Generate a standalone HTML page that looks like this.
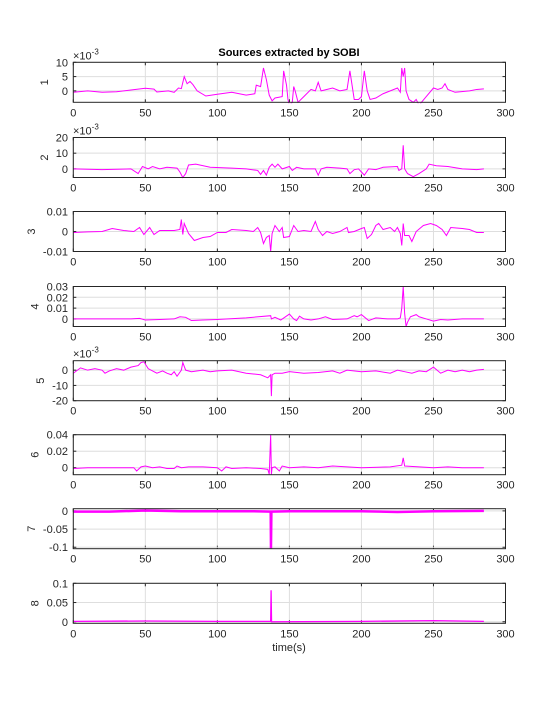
<!DOCTYPE html>
<html><head><meta charset="utf-8"><style>
body{margin:0;background:#fff;}
svg{display:block;font-family:"Liberation Sans",sans-serif;}
</style></head><body>
<svg id="c" width="560" height="704"></svg>
<script>
const xTicks=[0,50,100,150,200,250,300];
const s1=[[0,-0.5],[10,0],[20,-0.5],[30,-0.3],[40,0.3],[50,0.9],[56,0.6],[58,-0.4],[66,0],[70,-0.5],[73,1],[75,0.8],[77,5],[79,2.5],[81,3.3],[83,2.2],[86,0],[92,-1.8],[100,-1.2],[110,-0.5],[120,-1.5],[126,-1],[127,2],[130,1.5],[132,8],[134,4],[136,-1.5],[138,-3.5],[140,-2.5],[145,-2],[146,7],[148,2],[149,-3],[150,-5],[152,-4],[153,1.5],[154,0],[156,-4],[160,-2],[165,0.5],[168,0],[170,3],[172,0],[180,1],[185,0],[190,0.5],[192,7],[195,-3],[198,-3],[200,-2],[202,7],[204,0],[206,-3],[210,-2.5],[215,-1],[220,0],[225,1],[227,-0.5],[228,8],[229,5],[230,8],[231,0],[233,-3],[236,-4],[238,-3],[240,-5],[245,-2],[250,1],[253,0.5],[256,1],[258,2.5],[260,0.5],[265,-0.5],[275,0],[280,0.5],[285,0.7]];
const s2=[[0,0],[20,-0.5],[40,0],[45,-3],[48,1.5],[52,0],[55,1.5],[60,0],[65,1],[72,0.5],[74,-2],[76,-5.5],[78,-3],[80,2.5],[85,3],[95,1],[110,0.5],[120,0],[128,-1],[130,-3.5],[132,-1],[134,-4],[136,1],[138,3],[140,1],[142,3],[145,0],[150,1.5],[152,-1],[155,1],[160,0],[168,0],[170,-4],[172,0],[176,1],[185,0.5],[190,0],[192,-3],[195,-0.5],[198,0],[200,-2],[202,-4],[205,0],[210,-0.5],[215,1],[225,1.5],[226,-1],[228,0],[229,15],[230,0],[232,-3],[236,-5],[240,-3],[245,0],[247,3],[252,2],[260,1.5],[270,0],[280,-0.5],[285,0]];
const s3=[[0,-0.5],[10,-0.2],[20,0],[27,1.5],[35,0.5],[42,0],[46,2],[49,-1.5],[53,2],[56,-1.5],[60,0.5],[70,0.5],[74,1],[75,6],[76,-1.5],[77,4],[80,-1],[84,-4.5],[90,-3],[95,-2.5],[100,-0.5],[106,-0.5],[110,1],[120,0.5],[125,0],[128,2],[130,-0.5],[132,-6],[134,-3],[136,-2],[137,-10],[138,-1],[140,3],[143,0],[145,2],[146,-3],[150,-2.5],[153,3],[156,0],[160,0.5],[165,0],[168,5],[170,1],[173,-2],[176,0],[180,-1],[185,0],[190,2],[191,-0.5],[195,0],[200,1.5],[202,2],[204,-3.5],[207,-1.5],[210,3],[212,4],[215,1],[220,2],[223,0],[225,2],[227,-1],[228,-7],[229,4],[230,-2],[233,-2],[235,-5],[238,0],[243,3],[248,4],[252,3],[256,1],[259,-2],[262,2],[270,1.5],[275,1],[280,-0.5],[285,-0.5]];
const s4=[[0,0],[40,0],[46,0.5],[50,-1],[60,-0.5],[70,0],[74,2],[78,1.5],[82,-1.5],[90,-1],[100,-0.5],[120,1],[137,3],[137.5,0],[140,1.5],[144,-1],[150,4.5],[153,0],[155,-1.5],[157,2.5],[160,0],[165,-1],[170,0],[175,2],[180,-0.5],[190,0],[195,3],[197,2],[200,4],[205,-1.5],[210,1],[218,0],[225,0],[227,1],[228,10],[229,30],[230,5],[231,-7],[232,-3],[234,2],[238,4],[240,2],[245,0],[250,-2],[255,-0.5],[260,-1],[270,0],[285,0]];
const s5=[[0,-2],[5,1.5],[10,0],[15,1],[20,0],[22,-2],[25,-0.5],[30,1],[35,0],[40,2],[45,3],[47,5],[49,5.5],[52,1],[58,-2],[62,-0.5],[65,-2],[68,-3],[70,-1],[72,-4],[75,0],[76,5],[78,0],[82,-1],[90,0],[95,-1],[100,-0.5],[110,0],[120,-2],[125,-2.5],[130,-3],[135,-5],[137,-3],[137.5,-17],[138,-3],[140,-2],[145,-2],[150,-1],[160,-2],[170,-1.5],[180,-0.5],[185,-2],[190,0],[200,-1],[210,-0.5],[220,-2],[225,0],[230,-1],[235,-2],[240,-0.5],[245,-1],[250,2],[255,-2],[260,0],[265,-1],[270,0],[275,-1],[280,0],[285,0.5]];
const s6=[[0,-1],[10,0],[30,0],[42,0],[44,-4],[47,1],[50,2],[55,0],[60,1],[65,-1],[70,-1],[72,2],[75,0],[80,1],[90,1],[100,0],[103,-4],[106,1],[110,-1],[120,0],[130,-1],[135,-2],[136,-8],[137,40],[137.5,-8],[138,0],[140,1],[143,-4],[145,2],[150,0],[160,1],[170,0],[180,2],[200,0],[220,1],[228,3],[229,12],[230,2],[240,1],[250,0],[260,1],[270,0],[285,0]];
const s7=[[0,-2],[25,-2],[50,1],[75,-1],[100,-1],[125,-1],[137,-2],[137.2,-103],[137.5,-2],[150,-1],[200,-1],[225,-3],[250,-1],[285,0]];
const s8=[[0,1],[50,2],[100,1],[137,1],[137.3,82],[137.6,0],[200,1],[250,3],[285,1]];
const scales=[1e-3,1e-3,1e-3,1e-3,1e-3,1e-3,1e-3,1e-3];
const series=[s1,s2,s3,s4,s5,s6,s7,s8];
const ylims=[[-4,10],[-5.5,20],[-0.01,0.01],[-0.007,0.03],[-20,6.2],[-0.0085,0.04],[-0.104,0.006],[-0.004,0.1]];
const yTicks=[[0,5,10],[0,10,20],[-0.01,0,0.01],[0,0.01,0.02,0.03],[-20,-10,0],[0,0.02,0.04],[-0.1,-0.05,0],[0,0.05,0.1]];
const yTickLabels=[["0","5","10"],["0","10","20"],["-0.01","0","0.01"],["0","0.01","0.02","0.03"],["-20","-10","0"],["0","0.02","0.04"],["-0.1","-0.05","0"],["0","0.05","0.1"]];
const dispScale=[1e3,1e3,1,1,1e3,1,1,1];
const expLabel=[true,true,false,false,true,false,false,false];
const svg=document.getElementById('c');const NS='http://www.w3.org/2000/svg';
function mk(t,a,p){const e=document.createElementNS(NS,t);for(const k in a)e.setAttribute(k,a[k]);(p||svg).appendChild(e);return e;}
const X0=73.3,X1=505.5;
const xs=v=>X0+(v/300)*(X1-X0);
const tops=[62.3,137.5,211.5,286.5,360.7,434.7,508.7,583.3];const H=40;
series.forEach((s,i)=>{
 const g=mk('g',{});
 
 
 const top=tops[i],bot=top+H,[lo,hi]=ylims[i];
 const ys=v=>bot-(v-lo)/(hi-lo)*H;
 xTicks.forEach(t=>{const x=xs(t);
  const gl=mk('line',{x1:x,x2:x,y1:top,y2:bot,stroke:'#dedede','stroke-width':1},g);
  
  
  mk('line',{x1:x,x2:x,y1:bot,y2:bot-3,stroke:'#262626'},g);
  mk('line',{x1:x,x2:x,y1:top,y2:top+3,stroke:'#262626'},g);
  const tl=mk('text',{x:x,y:bot+14,'text-anchor':'middle','font-size':11,fill:'#262626'},g);tl.textContent=t;
  
  
 });
 let maxW=0;
 yTicks[i].forEach((t,j)=>{
  const yy=ys(t);
  const gl=mk('line',{x1:X0,x2:X1,y1:yy,y2:yy,stroke:'#dedede'},g);
  
  
  mk('line',{x1:X0,x2:X0+3,y1:yy,y2:yy,stroke:'#262626'},g);
  mk('line',{x1:X1,x2:X1-3,y1:yy,y2:yy,stroke:'#262626'},g);
  const tl=mk('text',{x:68,y:yy+4,'text-anchor':'end','font-size':11,fill:'#262626'},g);tl.textContent=yTickLabels[i][j];
  
  
  maxW=Math.max(maxW,tl.getComputedTextLength());
 });
 const sc=dispScale[i]===1?scales[i]:1;
 const pts=s.map(p=>xs(p[0]).toFixed(2)+','+ys(p[1]*sc).toFixed(2)).join(' ');
 const cp=mk('clipPath',{id:'cp'+i},g);mk('rect',{x:X0,y:top-1,width:X1-X0,height:H+2},cp);
 const ln=mk('polyline',{points:pts,fill:'none',stroke:'#ff00ff','stroke-width':i===6?2.5:(i===7?1.3:1),'clip-path':'url(#cp'+i+')'},g);
 
 
 const bx=mk('rect',{x:X0,y:top,width:X1-X0,height:H,fill:'none',stroke:'#262626','stroke-width':1},g);
 
 
 const lx=68-maxW-8;
 const yl=mk('text',{x:0,y:0,'font-size':11,fill:'#262626','text-anchor':'middle',transform:'translate('+lx+','+(top+H/2)+') rotate(-90)'},g);yl.textContent=i+1;
 
 
 if(expLabel[i]){const ex=mk('text',{x:73,y:top-3,'font-size':11,fill:'#262626'},g);
  ex.innerHTML='×10<tspan dy="-5" font-size="8">-3</tspan>';
  
  }
});
const ti=mk('text',{x:289,y:56,'text-anchor':'middle','font-size':11,'font-weight':'bold',fill:'#000'});ti.textContent='Sources extracted by SOBI';


const xl=mk('text',{x:289,y:651,'text-anchor':'middle','font-size':11,fill:'#262626'});xl.textContent='time(s)';


</script>
</body></html>
